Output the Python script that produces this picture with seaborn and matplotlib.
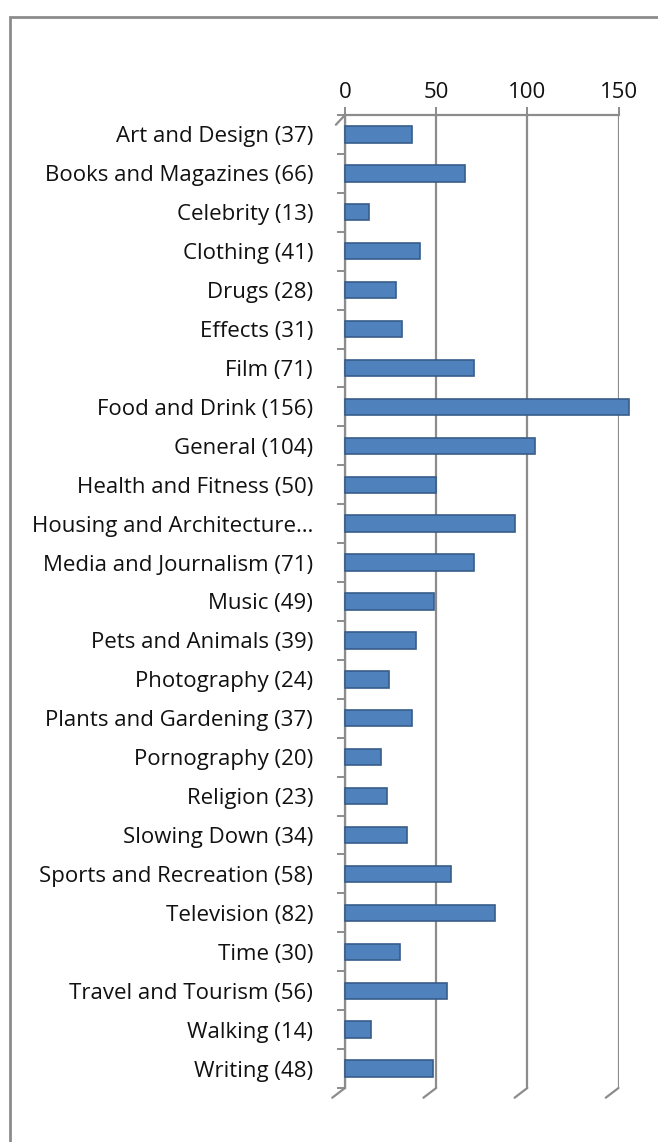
import matplotlib
matplotlib.use("Agg")
import matplotlib.pyplot as plt
import seaborn as sns
import pandas as pd
from matplotlib.patches import Rectangle

# data
categories = ["Art and Design (37)", "Books and Magazines (66)", "Celebrity (13)",
              "Clothing (41)", "Drugs (28)", "Effects (31)", "Film (71)",
              "Food and Drink (156)", "General (104)", "Health and Fitness (50)",
              "Housing and Architecture\u2026", "Media and Journalism (71)",
              "Music (49)", "Pets and Animals (39)", "Photography (24)",
              "Plants and Gardening (37)", "Pornography (20)", "Religion (23)",
              "Slowing Down (34)", "Sports and Recreation (58)", "Television (82)",
              "Time (30)", "Travel and Tourism (56)", "Walking (14)", "Writing (48)"]
counts = [37, 66, 13, 41, 28, 31, 71, 156, 104, 50, 93, 71, 49, 39, 24,
          37, 20, 23, 34, 58, 82, 30, 56, 14, 48]
xticks = [0, 50, 100, 150]

df = pd.DataFrame({"category": categories, "count": counts})

sns.set_theme(style="white")
plt.rcParams["font.family"] = ["Open Sans", "DejaVu Sans"]

W, H = 658, 1142
fig = plt.figure(figsize=(W / 100, H / 100), dpi=100)
fig.patch.set_facecolor("white")

# outer frame of the chart object
fig.patches.append(Rectangle((10 / W, -0.1), 1.2, 1 - 17 / H + 0.1,
                             transform=fig.transFigure, fill=False,
                             edgecolor="#8c8c8c", linewidth=2))

ax = fig.add_axes([345 / W, 1 - 1088 / H, (618.5 - 345) / W, (1088 - 115) / H])
sns.barplot(data=df, y="category", x="count", orient="h", ax=ax,
            color="#4f81bd", edgecolor="#385d8a", linewidth=1.2,
            width=0.42, saturation=1)
for p in ax.patches:
    p.set_clip_on(False)
    p.set_zorder(3)

ax.set_xlim(0, 150)
ax.set_ylim(len(categories) - 0.5, -0.5)
ax.set_xticks(xticks)
ax.set_xticklabels([str(t) for t in xticks])
ax.xaxis.tick_top()
ax.set_xlabel("")
ax.set_ylabel("")

gray = "#8c8c8c"
for t in xticks:
    ax.axvline(t, color=gray, linewidth=1.6, zorder=1)
    # small perspective floor stroke
    ax.plot([t, t - 7], [len(categories) - 0.5, len(categories) - 0.25],
            color=gray, linewidth=1.6, clip_on=False, zorder=1)
ax.plot([0, -5], [-0.5, -0.25], color=gray, linewidth=1.6, clip_on=False)

for s in ["right", "bottom"]:
    ax.spines[s].set_visible(False)
for s in ["top", "left"]:
    ax.spines[s].set_color(gray)
    ax.spines[s].set_linewidth(1.6)

ax.tick_params(axis="x", top=True, bottom=False, direction="out", length=6,
               width=1.4, color=gray, labelsize=16, pad=3, labelcolor="#111111")
ax.set_yticks(range(len(categories)), minor=False)
ax.set_yticklabels(categories)
ax.set_yticks([i - 0.5 for i in range(len(categories) + 1)], minor=True)
ax.tick_params(axis="y", which="major", length=0, pad=23, labelsize=16,
               labelcolor="#111111")
ax.tick_params(axis="y", which="minor", left=True, length=6, width=1.4,
               color=gray, direction="out")

fig.savefig("out.png", dpi=100, facecolor="white")
